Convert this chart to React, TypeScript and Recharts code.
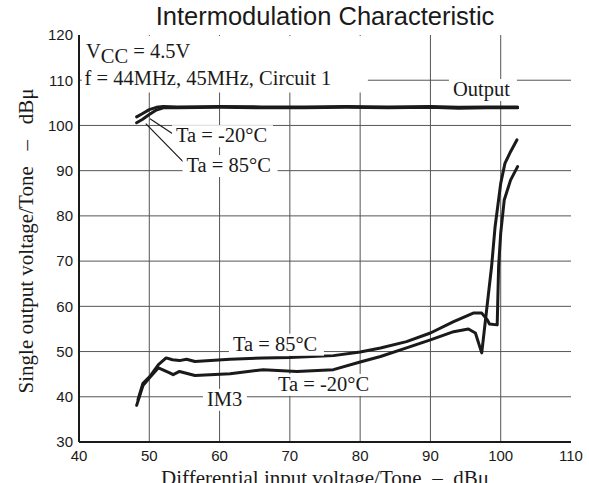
import React from "react";
import {
  LineChart,
  Line,
  XAxis,
  YAxis,
  CartesianGrid,
  ReferenceLine,
  ReferenceArea,
  ReferenceDot,
} from "recharts";

// ---------- data ----------
const xTicks = [40, 50, 60, 70, 80, 90, 100, 110];
const yTicks = [30, 40, 50, 60, 70, 80, 90, 100, 110, 120];

const outM20X = [48.2, 49.0, 50.0, 51.0, 52.0, 54.0, 60.0, 66.0, 72.0, 78.0, 84.0, 90.0, 94.0, 98.0, 102.4];
const outM20Y = [101.9, 102.6, 103.5, 104.0, 104.2, 104.1, 104.2, 104.1, 104.1, 104.2, 104.1, 104.2, 104.0, 104.1, 104.1];

const out85X = [48.2, 49.0, 50.0, 51.0, 52.0, 54.0, 60.0, 66.0, 72.0, 78.0, 84.0, 90.0, 94.0, 98.0, 102.4];
const out85Y = [100.6, 101.3, 102.4, 103.4, 103.9, 103.9, 104.0, 103.9, 103.9, 104.0, 103.9, 104.0, 103.8, 103.9, 103.9];

const im85X = [48.4, 49.1, 50.1, 51.3, 52.4, 53.3, 54.3, 55.3, 56.5, 61.5, 66.2, 70.0, 76.2, 80.0, 82.9, 86.6, 90.0, 93.3, 96.1, 97.3, 98.1, 98.4, 99.5, 99.7, 100.0, 100.5, 101.4, 102.4];
const im85Y = [39.4, 43.0, 44.5, 47.1, 48.6, 48.2, 48.0, 48.3, 47.8, 48.3, 48.6, 48.7, 49.1, 49.9, 50.8, 52.2, 54.1, 56.6, 58.5, 58.5, 57.0, 56.1, 55.9, 68.8, 76.2, 83.5, 87.9, 90.9];

const imM20X = [48.2, 49.1, 50.1, 51.3, 52.9, 53.4, 54.3, 56.5, 61.5, 66.2, 71.0, 76.2, 80.0, 82.9, 86.6, 90.0, 93.3, 95.4, 96.4, 97.3, 98.7, 99.2, 100.0, 100.6, 101.4, 102.3];
const imM20Y = [38.1, 42.5, 44.3, 46.4, 45.3, 44.9, 45.6, 44.7, 45.1, 46.0, 45.6, 46.0, 47.7, 48.9, 50.8, 52.6, 54.4, 55.0, 54.1, 49.7, 68.8, 77.6, 87.2, 91.6, 94.2, 96.8];

const zip = (xs: number[], ys: number[]) => xs.map((x, i) => ({ x, y: ys[i] }));

const outM20 = zip(outM20X, outM20Y);
const out85 = zip(out85X, out85Y);
const im85 = zip(im85X, im85Y);
const imM20 = zip(imM20X, imM20Y);

// ---------- annotation layout ----------
const SERIF = "'Liberation Serif', 'Times New Roman', serif";
const SANS = "'Liberation Sans', Arial, sans-serif";
const INK = "#1a1a1a";
const GRID = "#555555";

type Ann = { x: number; y: number; text: string; w: number };
const annotations: Ann[] = [
  { x: 93.2, y: 106.5, text: "Output", w: 60 },
  { x: 53.8, y: 96.3, text: "Ta = -20°C", w: 93 },
  { x: 55.3, y: 89.7, text: "Ta = 85°C", w: 87 },
  { x: 61.9, y: 50.2, text: "Ta = 85°C", w: 87 },
  { x: 68.3, y: 41.3, text: "Ta = -20°C", w: 93 },
  { x: 58.2, y: 38.0, text: "IM3", w: 36 },
];

const labelShape = (a: Ann) => (props: any) => {
  const { cx, cy } = props;
  return (
    <g>
      <rect x={cx - 4} y={cy - 17} width={a.w + 8} height={22} fill="#fff" />
      <text x={cx} y={cy} fontFamily={SERIF} fontSize={20.5} fill={INK}>
        {a.text}
      </text>
    </g>
  );
};

const vccShape = (props: any) => {
  const { cx, cy } = props;
  return (
    <text x={cx} y={cy} fontFamily={SERIF} fontSize={20.5} fill={INK}>
      <tspan>V</tspan>
      <tspan dy={5}>CC</tspan>
      <tspan dy={-5}> = 4.5V</tspan>
    </text>
  );
};

const freqShape = (props: any) => {
  const { cx, cy } = props;
  return (
    <text x={cx} y={cy} fontFamily={SERIF} fontSize={20.5} fill={INK}>
      f = 44MHz, 45MHz, Circuit 1
    </text>
  );
};

const W = 589;
const H = 483;

export default function App() {
  const lineProps = {
    type: "linear" as const,
    dataKey: "y",
    stroke: INK,
    strokeWidth: 3,
    dot: false,
    activeDot: false,
    isAnimationActive: false,
    strokeLinejoin: "round" as const,
    strokeLinecap: "round" as const,
  };
  return (
    <div style={{ position: "absolute", left: 0, top: 0, width: W, height: H, background: "#fff" }}>
      <LineChart width={W} height={H} margin={{ top: 35, right: 18, left: 0, bottom: 0 }}>
        <CartesianGrid
          stroke={GRID}
          strokeWidth={1}
          horizontalValues={[40, 50, 60, 70, 80, 90, 100, 110]}
          verticalValues={[50, 60, 70, 80, 90, 100]}
        />
        {/* blank top-left region where the grid is interrupted */}
        <ReferenceArea x1={40.4} x2={81.1} y1={107.3} y2={119.8} fill="#fff" fillOpacity={1} stroke="none" />
        <ReferenceArea x1={81.1} x2={89.8} y1={110.3} y2={119.8} fill="#fff" fillOpacity={1} stroke="none" />

        <XAxis
          dataKey="x"
          type="number"
          domain={[40, 110]}
          ticks={xTicks}
          allowDataOverflow
          height={41}
          tickLine={false}
          tickSize={6}
          tickMargin={2}
          axisLine={{ stroke: INK, strokeWidth: 2 }}
          tick={{ fill: INK, fontSize: 15, fontFamily: SANS }}
        />
        <XAxis
          xAxisId="top"
          orientation="top"
          type="number"
          domain={[40, 110]}
          height={0}
          tick={false}
          tickLine={false}
          axisLine={{ stroke: INK, strokeWidth: 1.6 }}
        />
        <YAxis
          type="number"
          domain={[30, 120]}
          ticks={yTicks}
          allowDataOverflow
          width={79}
          tickLine={false}
          tickSize={4}
          tickMargin={2}
          axisLine={{ stroke: INK, strokeWidth: 2 }}
          tick={{ fill: INK, fontSize: 15, fontFamily: SANS }}
        />
        <YAxis
          yAxisId="right"
          orientation="right"
          type="number"
          domain={[30, 120]}
          width={0}
          tick={false}
          tickLine={false}
          axisLine={{ stroke: INK, strokeWidth: 2 }}
        />

        {annotations.map((a, i) => (
          <ReferenceDot key={"a" + i} x={a.x} y={a.y} r={0} shape={labelShape(a)} />
        ))}
        <ReferenceDot x={41.0} y={114.9} r={0} shape={vccShape} />
        <ReferenceDot x={40.8} y={108.9} r={0} shape={freqShape} />

        <ReferenceLine
          segment={[{ x: 50.1, y: 101.5 }, { x: 53.6, y: 97.9 }]}
          stroke={INK}
          strokeWidth={1.2}
        />
        <ReferenceLine
          segment={[{ x: 49.5, y: 100.4 }, { x: 54.8, y: 92.0 }]}
          stroke={INK}
          strokeWidth={1.2}
        />

        <Line {...lineProps} data={outM20} name="Output Ta=-20°C" />
        <Line {...lineProps} data={out85} name="Output Ta=85°C" />
        <Line {...lineProps} data={im85} name="IM3 Ta=85°C" />
        <Line {...lineProps} data={imM20} name="IM3 Ta=-20°C" />

        <text x={325} y={25} textAnchor="middle" fontFamily={SANS} fontSize={25.5} fill={INK}>
          Intermodulation Characteristic
        </text>
        <text
          x={325}
          y={485}
          textAnchor="middle"
          fontFamily={SERIF}
          fontSize={21}
          fill={INK}
          style={{ whiteSpace: "pre" }}
        >
          Differential input voltage/Tone  –  dBμ
        </text>
        <text
          x={33}
          y={241}
          textAnchor="middle"
          fontFamily={SERIF}
          fontSize={21}
          fill={INK}
          transform="rotate(-90, 33, 241)"
          style={{ whiteSpace: "pre" }}
        >
          Single output voltage/Tone   –   dBμ
        </text>
      </LineChart>
    </div>
  );
}
